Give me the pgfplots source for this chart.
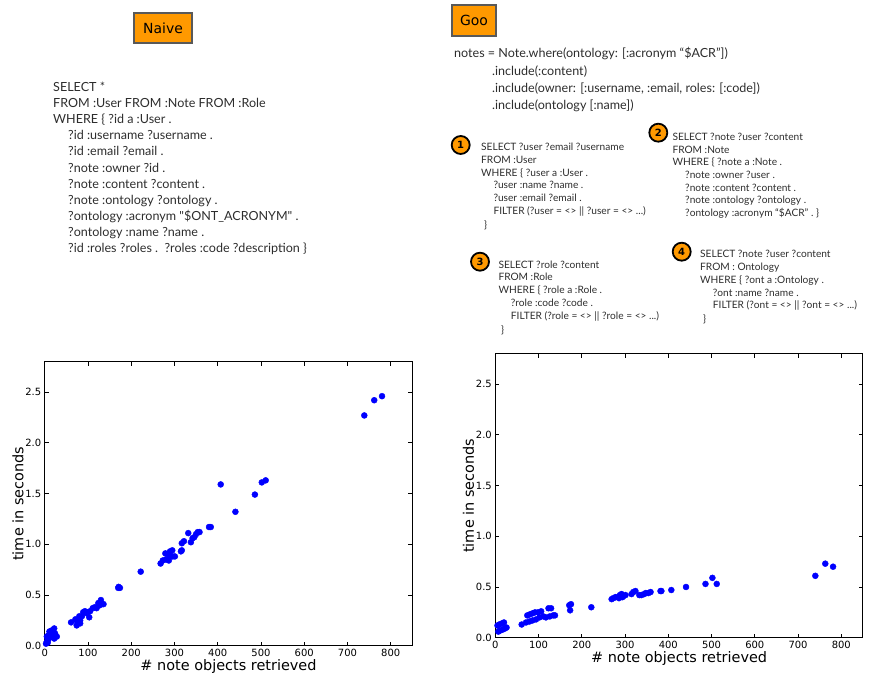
\documentclass[border=0pt]{standalone}
\usepackage{fontspec}
\setmainfont{DejaVu Sans}
\newfontfamily\codefont{Lato}
\usepackage{pgfplots}
\pgfplotsset{compat=1.18}
\definecolor{boxorange}{RGB}{255,153,0}
\definecolor{codegray}{RGB}{45,45,45}
\tikzset{
  code/.style={anchor=west, inner sep=0pt, text height=0.72em, text depth=0.2em, text=codegray, font=\codefont\fontsize{10.2}{12}\selectfont},
  codeL/.style={code, font=\codefont\fontsize{12.6}{14}\selectfont},
  badge/.style={circle, fill=boxorange, draw=black, line width=1.8bp, minimum size=18bp, inner sep=0pt, font=\bfseries\fontsize{10}{10}\selectfont},
  titlebox/.style={draw=black!65, line width=1.2bp, fill=boxorange, inner sep=0pt, font=\fontsize{14}{14}\selectfont}
}
\pgfplotsset{myax/.style={
  scale only axis, width=367.6bp, height=284bp,
  xmin=0, xmax=850, ymin=0, ymax=2.8,
  xtick={0,100,200,300,400,500,600,700,800},
  ytick={0,0.5,1,1.5,2,2.5},
  tick align=inside, major tick length=4bp,
  axis line style={line width=0.9bp},
  every tick/.style={black, line width=0.8bp},
  tick label style={font=\fontsize{10}{10}\selectfont},
  /pgf/number format/assume math mode=true,
  yticklabel style={/pgf/number format/fixed, /pgf/number format/fixed zerofill, /pgf/number format/precision=1},
  xlabel={\# note objects retrieved}, ylabel={time in seconds},
  label style={font=\fontsize{14.5}{14.5}\selectfont},
  x label style={at={(axis description cs:0.5,-0.072)}, anchor=center},
  y label style={at={(axis description cs:-0.073,0.5)}, anchor=center},
}}
\begin{document}
\begin{tikzpicture}[x=1bp,y=1bp]
\path[use as bounding box] (0,0) rectangle (869,673);
% title boxes
\node[titlebox, minimum width=58bp, minimum height=30bp] at (163,{673-28}) {Naive};
\node[titlebox, minimum width=44bp, minimum height=31bp] at (474,{673-20.5}) {Goo};
% Naive query
\node[codeL] at (53,{673-89}) {SELECT *};
\node[codeL] at (53,{673-105}) {FROM :User FROM :Note FROM :Role};
\node[codeL] at (53,{673-121}) {WHERE \{ ?id a :User .};
\node[codeL] at (68,{673-137}) {?id :username ?username .};
\node[codeL] at (68,{673-153}) {?id :email ?email .};
\node[codeL] at (68,{673-170}) {?note :owner ?id .};
\node[codeL] at (68,{673-186}) {?note :content ?content .};
\node[codeL] at (68,{673-202}) {?note :ontology ?ontology .};
\node[codeL] at (68,{673-218}) {?ontology :acronym "\$ONT\_ACRONYM" .};
\node[codeL] at (68,{673-234}) {?ontology :name ?name .};
\node[codeL] at (68,{673-250}) {?id :roles ?roles .\ \ ?roles :code ?description \}};
% Goo code
\node[codeL] at (454,{673-55}) {notes = Note.where(ontology: [:acronym “\$ACR”])};
\node[codeL] at (492,{673-73}) {.include(:content)};
\node[codeL] at (492,{673-90}) {.include(owner: [:username, :email, roles: [:code])};
\node[codeL] at (492,{673-107}) {.include(ontology [:name])};
% query 1
\node[badge] at (460.7,{673-145}) {1};
\node[code] at (481,{673-148.3}) {SELECT ?user ?email ?username};
\node[code] at (481,{673-161.3}) {FROM :User};
\node[code] at (481,{673-173.7}) {WHERE \{ ?user a :User .};
\node[code] at (493.3,{673-186.3}) {?user :name ?name .};
\node[code] at (493.3,{673-199.3}) {?user :email ?email .};
\node[code] at (493.3,{673-211.7}) {FILTER (?user = <> || ?user = <> ...)};
\node[code] at (484,{673-226}) {\}};
% query 2
\node[badge] at (658.3,{673-132.7}) {2};
\node[code] at (672.3,{673-138.3}) {SELECT ?note ?user ?content};
\node[code] at (672.3,{673-150.7}) {FROM :Note};
\node[code] at (672.3,{673-163.3}) {WHERE \{ ?note a :Note .};
\node[code] at (685,{673-176}) {?note :owner ?user .};
\node[code] at (685,{673-188.7}) {?note :content ?content .};
\node[code] at (685,{673-201.3}) {?note :ontology ?ontology .};
\node[code] at (685,{673-214.3}) {?ontology :acronym “\$ACR” . \}};
% query 3
\node[badge] at (480,{673-261.7}) {3};
\node[code] at (498.3,{673-266}) {SELECT ?role ?content};
\node[code] at (498.3,{673-278.3}) {FROM :Role};
\node[code] at (498.3,{673-291.3}) {WHERE \{ ?role a :Role .};
\node[code] at (510.7,{673-304}) {?role :code ?code .};
\node[code] at (510.7,{673-316.7}) {FILTER (?role = <> || ?role = <> ...)};
\node[code] at (501,{673-330.7}) {\}};
% query 4
\node[badge] at (681.7,{673-251.7}) {4};
\node[code] at (700,{673-255}) {SELECT ?note ?user ?content};
\node[code] at (700,{673-267.7}) {FROM : Ontology};
\node[code] at (700,{673-281}) {WHERE \{ ?ont a :Ontology .};
\node[code] at (712.7,{673-293.7}) {?ont :name ?name .};
\node[code] at (712.7,{673-306}) {FILTER (?ont = <> || ?ont = <> ...)};
\node[code] at (703,{673-320}) {\}};

% Naive plot
\begin{axis}[myax, at={(44.7bp,27.3bp)}, anchor=south west]
\addplot[only marks, mark=*, color=blue, mark size=3bp] coordinates {
(739,2.27) (762,2.42) (780,2.46)
(407,1.59) (502,1.61) (511,1.63) (486,1.49) (441,1.32)
(380,1.17) (384,1.17)
(358,1.12) (354,1.12) (350,1.10) (346,1.07) (342,1.06) (332,1.11) (338,1.02)
(322,1.03) (317,1.01) (317,0.94) (315,0.93)
(301,0.88) (296,0.88) (295,0.94) (290,0.93) (286,0.91) (279,0.91)
(287,0.87) (287,0.84) (280,0.85) (273,0.84) (268,0.81)
(222,0.73)
(171,0.58) (174,0.57) (170,0.57)
(61,0.23) (71,0.26) (74,0.20) (78,0.23) (82,0.22) (80,0.29) (86,0.29) (89,0.33)
(93,0.34) (97,0.32) (103,0.28) (105,0.34) (111,0.37) (116,0.38) (120,0.37)
(124,0.42) (130,0.45) (136,0.41) (128,0.40) (99,0.33) (82,0.25) (75,0.24)
(5,0.04) (8,0.06) (12,0.08) (16,0.10) (20,0.11) (24,0.12) (28,0.09) (22,0.07)
(8,0.10) (11,0.14) (16,0.15) (22,0.17) (5,0.09) (12,0.12) (3,0.02) (7,0.03)
};
\end{axis}

% Goo plot
\begin{axis}[myax, at={(495.3bp,35.3bp)}, anchor=south west]
\addplot[only marks, mark=*, color=blue, mark size=3bp] coordinates {
(740,0.61) (763,0.73) (781,0.70)
(502,0.59) (512,0.53) (486,0.53) (441,0.50) (407,0.47)
(382,0.46) (384,0.46)
(359,0.45) (354,0.44) (348,0.44) (344,0.43) (338,0.42) (333,0.42)
(324,0.46) (319,0.45) (315,0.43)
(301,0.42) (296,0.41) (292,0.43) (288,0.42) (284,0.40) (278,0.40) (273,0.39)
(269,0.38) (286,0.39) (294,0.40)
(222,0.30)
(175,0.33) (171,0.32) (173,0.27)
(74,0.22) (80,0.23) (86,0.24) (92,0.25) (99,0.25) (106,0.26) (123,0.29) (129,0.29)
(61,0.13) (71,0.15) (79,0.16) (86,0.17) (94,0.18) (102,0.20) (111,0.21) (117,0.20)
(126,0.21) (134,0.22) (138,0.22)
(7,0.06) (11,0.07) (17,0.08) (22,0.09) (26,0.10) (9,0.13) (15,0.14) (20,0.15) (5,0.12)
};
\end{axis}
\end{tikzpicture}
\end{document}
